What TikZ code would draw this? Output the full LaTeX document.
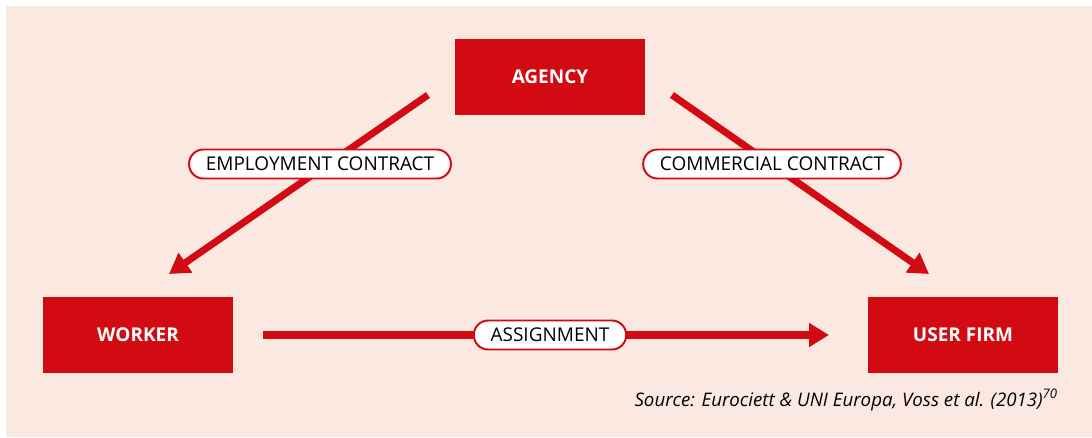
\documentclass[tikz,border=0pt]{standalone}
\usepackage{fontspec}
\setmainfont{Open Sans}
\usetikzlibrary{arrows.meta}
\definecolor{agred}{HTML}{D20B12}
\definecolor{agbg}{HTML}{FBE9E1}

\begin{document}
\begin{tikzpicture}[x=0.025cm, y=-0.025cm, > = {Triangle[length=0.5cm, width=0.575cm]}]
            \tikzstyle{party}=[rectangle, fill=agred, text=white, font=\bfseries\fontsize{13.5}{15}\selectfont, minimum width=4.75cm, minimum height=1.9cm, inner sep=0pt]
            \tikzstyle{contract}=[rectangle, rounded corners=0.36cm, draw=agred, line width=1.4pt, fill=white, text=black, font=\fontsize{13.5}{15}\selectfont, minimum height=0.725cm, inner xsep=0.42cm, inner ysep=0pt]
            \tikzstyle{link}=[->, agred, line width=5pt]

                % Fundo
                \useasboundingbox (0,0) rectangle (1092,437);
                \fill[agbg] (6,6) rectangle (1092,437);

                % Partes
                \node[party] (agency) at (550,77) {AGENCY};
                \node[party] (worker) at (138,335) {WORKER};
                \node[party] (userfirm) at (963,335) {USER FIRM};

                % Pontas das setas
                \coordinate (empS) at (428,95);
                \coordinate (empE) at (169,274);
                \coordinate (comS) at (672,95);
                \coordinate (comE) at (929,274);
                \coordinate (asgS) at (263,335);
                \coordinate (asgE) at (829,335);

                % Setas
                \draw[link] (empS) -- (empE);
                \draw[link] (comS) -- (comE);
                \draw[link] (asgS) -- (asgE);

                % Contratos
                \node[contract] (employment) at (320,164) {EMPLOYMENT CONTRACT};
                \node[contract] (commercial) at (772,164) {COMMERCIAL CONTRACT};
                \node[contract] (assignment) at (550,335) {ASSIGNMENT};

                \node[anchor=base east, inner sep=0pt, font=\itshape\fontsize{13.3}{15}\selectfont] (source) at (1058,406) {Source: Eurociett \& UNI Europa, Voss et al. (2013)\textsuperscript{70}};
        \end{tikzpicture}
\end{document}
